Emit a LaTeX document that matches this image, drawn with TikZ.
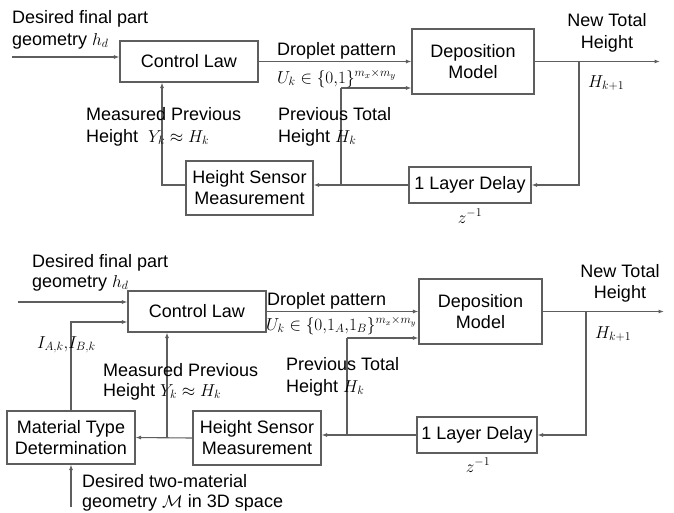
\documentclass[tikz,border=0pt]{standalone}
\usepackage{fontspec}
\setmainfont{Liberation Sans}
\usetikzlibrary{arrows.meta}
\begin{document}
\begin{tikzpicture}[x=1pt,y=-1pt,
  every node/.style={font=\fontsize{18}{21}\selectfont, inner sep=0pt},
  blk/.style={draw=linegray, line width=1.1pt, align=center, fill=white},
  lbl/.style={anchor=base west},
  ctr/.style={anchor=base},
  wire/.style={draw=linegray, line width=1.1pt},
  arr/.style={wire, -{Latex[length=5.5pt,width=4pt]}}]
\definecolor{linegray}{HTML}{5E5E5E}
\useasboundingbox (0,0) rectangle (674,512);
\fill[white] (0,0) rectangle (674,512);

% ---------- top diagram ----------
\node[blk, minimum width=138pt, minimum height=41pt] (CL1) at (189,61.5) {Control Law};
\node[blk, minimum width=122pt, minimum height=65pt] (DM1) at (473,61.5) {Deposition\\Model};
\node[blk, minimum width=127pt, minimum height=54pt] (HS1) at (249.5,188) {Height Sensor\\Measurement};
\node[blk, minimum width=122pt, minimum height=36pt] (LD1) at (470,185) {1 Layer Delay};

\coordinate (in1) at (12,57);
\coordinate (p1) at (341,88);
\coordinate (o1) at (660,61.5);
\coordinate (b1) at (579,61.5);
\coordinate (f1) at (162,185);

\draw[arr] (in1) -- (in1 -| CL1.west);
\draw[arr] (CL1.east) -- (CL1.east -| DM1.west);
\draw[arr] (p1) -- (p1 -| DM1.west);
\draw[arr] (DM1.east) -- (o1);
\draw[arr] (b1) |- (LD1.east);
\draw[arr] (LD1.west) -- (LD1.west -| HS1.east);
\draw[wire] (p1) -- (p1 |- LD1.west);
\draw[arr] (HS1.west |- f1) -- (f1) -- (f1 |- CL1.south);

\node[lbl] (t1a) at (12,23) {Desired final part};
\node[lbl] (t1b) at (12,45) {geometry $h_d$};
\node[lbl] (t1c) at (277,55) {Droplet pattern};
\node[lbl] (t1d) at (277,83) {$U_k\in\{0{,}1\}^{m_x\times m_y}$};
\node[ctr] (t1e) at (607,26) {New Total};
\node[ctr] (t1f) at (607,48) {Height};
\node[lbl] (t1g) at (588,87) {$H_{k+1}$};
\node[lbl] (t1h) at (86,120) {Measured Previous};
\node[lbl] (t1i) at (86,142) {Height\hspace{5pt} $Y_k\approx H_k$};
\node[lbl] (t1j) at (278,120) {Previous Total};
\node[lbl] (t1k) at (278,142) {Height $H_k$};
\node[ctr] (t1l) at (470,223) {$z^{-1}$};

% ---------- bottom diagram ----------
\node[blk, minimum width=138pt, minimum height=41pt] (CL2) at (197,311.5) {Control Law};
\node[blk, minimum width=123pt, minimum height=65pt] (DM2) at (480.5,311.5) {Deposition\\Model};
\node[blk, minimum width=128pt, minimum height=53pt] (MT2) at (71,437.5) {Material Type\\Determination};
\node[blk, minimum width=128pt, minimum height=54pt] (HS2) at (257,438) {Height Sensor\\Measurement};
\node[blk, minimum width=120pt, minimum height=36pt] (LD2) at (477,435) {1 Layer Delay};

\coordinate (in2) at (18,302);
\coordinate (i2) at (71,322);
\coordinate (p2) at (347,338);
\coordinate (o2) at (664,311.5);
\coordinate (b2) at (586,311.5);
\coordinate (f2) at (167,438);
\coordinate (g2) at (71,507);

\draw[arr] (in2) -- (in2 -| CL2.west);
\draw[arr] (MT2.north) |- (CL2.west |- i2);
\draw[arr] (CL2.east) -- (CL2.east -| DM2.west);
\draw[arr] (p2) -- (p2 -| DM2.west);
\draw[wire] (p2) -- (p2 |- LD2.west);
\draw[arr] (DM2.east) -- (o2);
\draw[arr] (b2) |- (LD2.east);
\draw[arr] (LD2.west) -- (LD2.west -| HS2.east);
\draw[arr] (HS2.west) -- (MT2.east);
\draw[arr] (f2) -- (f2 |- CL2.south);
\draw[arr] (g2) -- (MT2.south);

\node[lbl] (t2a) at (32,267) {Desired final part};
\node[lbl] (t2b) at (32,287) {geometry $h_d$};
\node[lbl] (t2c) at (267,305) {Droplet pattern};
\node[lbl, font=\fontsize{17}{21}\selectfont] (t2d) at (266,330) {$U_k\in\{0{,}1_A{,}1_B\}^{m_x\times m_y}$};
\node[lbl] (t2e) at (37,348) {$I_{A,k}{,}I_{B,k}$};
\node[ctr] (t2f) at (620,277) {New Total};
\node[ctr] (t2g) at (620,298) {Height};
\node[lbl] (t2h) at (595,338) {$H_{k+1}$};
\node[lbl] (t2i) at (103,376) {Measured Previous};
\node[lbl] (t2j) at (103,396) {Height $Y_k\approx H_k$};
\node[lbl] (t2k) at (286,370) {Previous Total};
\node[lbl] (t2l) at (286,392) {Height $H_k$};
\node[ctr] (t2m) at (478,472) {$z^{-1}$};
\node[lbl] (t2n) at (82,487) {Desired two-material};
\node[lbl] (t2o) at (82,507) {geometry $\mathcal{M}$ in 3D space};
\end{tikzpicture}
\end{document}
